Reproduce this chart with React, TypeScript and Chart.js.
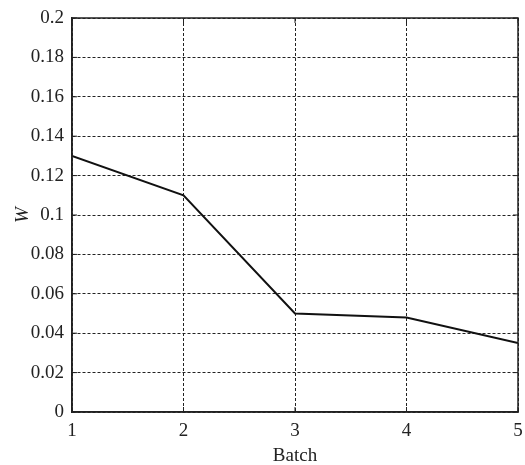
import React, { useEffect, useRef } from "react";
import { Chart, registerables } from "chart.js";

Chart.register(...registerables);

const batches = [1, 2, 3, 4, 5];
const wValues = [0.13, 0.11, 0.05, 0.048, 0.035];
const yTickValues = [0, 0.02, 0.04, 0.06, 0.08, 0.1, 0.12, 0.14, 0.16, 0.18, 0.2];
const yTickLabels = ["0", "0.02", "0.04", "0.06", "0.08", "0.1", "0.12", "0.14", "0.16", "0.18", "0.2"];
const xTickLabels = ["1", "2", "3", "4", "5"];

const FONT = "'Liberation Serif', 'DejaVu Serif', serif";
const INK = "#222";

const boxPlugin = {
  id: "boxPlugin",
  afterDraw(chart: any) {
    const { ctx, chartArea } = chart;
    const { left, right, top, bottom } = chartArea;
    ctx.save();
    ctx.strokeStyle = INK;
    ctx.lineWidth = 1.5;
    ctx.setLineDash([]);
    ctx.strokeRect(left, top, right - left, bottom - top);
    const tl = 5;
    ctx.lineWidth = 1;
    const xs = chart.scales.x;
    const ys = chart.scales.y;
    xs.ticks.forEach((t: any) => {
      const px = xs.getPixelForValue(t.value);
      ctx.beginPath();
      ctx.moveTo(px, bottom);
      ctx.lineTo(px, bottom - tl);
      ctx.moveTo(px, top);
      ctx.lineTo(px, top + tl);
      ctx.stroke();
    });
    ys.ticks.forEach((t: any) => {
      const py = ys.getPixelForValue(t.value);
      ctx.beginPath();
      ctx.moveTo(left, py);
      ctx.lineTo(left + tl, py);
      ctx.moveTo(right, py);
      ctx.lineTo(right - tl, py);
      ctx.stroke();
    });
    ctx.restore();
  },
};

export default function App() {
  const ref = useRef<HTMLCanvasElement | null>(null);

  useEffect(() => {
    if (!ref.current) return;
    const chart = new Chart(ref.current, {
      type: "line",
      data: {
        datasets: [
          {
            data: batches.map((b, i) => ({ x: b, y: wValues[i] })),
            borderColor: "#111",
            borderWidth: 2,
            pointRadius: 0,
            fill: false,
            tension: 0,
          },
        ],
      },
      plugins: [boxPlugin],
      options: {
        animation: false,
        responsive: false,
        maintainAspectRatio: false,
        layout: { padding: { left: 12, right: 7, top: 18, bottom: 0 } },
        plugins: { legend: { display: false }, tooltip: { enabled: false } },
        scales: {
          x: {
            type: "linear",
            min: 1,
            max: 5,
            afterBuildTicks: (scale: any) => {
              scale.ticks = batches.map((v) => ({ value: v }));
            },
            afterFit: (scale: any) => {
              scale.height = 53;
              scale.paddingLeft = 0;
              scale.paddingRight = 0;
            },
            ticks: {
              color: INK,
              font: { family: FONT, size: 19 },
              padding: 8,
              maxRotation: 0,
              callback: (v: any) => {
                const i = batches.indexOf(Number(v));
                return i >= 0 ? xTickLabels[i] : "";
              },
            },
            grid: { color: INK, lineWidth: 1, drawTicks: false },
            border: { display: true, color: INK, width: 1.5, dash: [3, 2] },
            title: {
              display: true,
              text: "Batch",
              color: INK,
              font: { family: FONT, size: 19 },
              padding: { top: 0, bottom: -2 },
            },
          },
          y: {
            type: "linear",
            min: 0,
            max: 0.2,
            afterBuildTicks: (scale: any) => {
              scale.ticks = yTickValues.map((v) => ({ value: v }));
            },
            afterFit: (scale: any) => {
              scale.width = 60;
              scale.paddingTop = 0;
              scale.paddingBottom = 0;
            },
            ticks: {
              color: INK,
              font: { family: FONT, size: 19 },
              padding: 8,
              callback: (v: any) => {
                const i = yTickValues.findIndex((t) => Math.abs(t - Number(v)) < 1e-9);
                return i >= 0 ? yTickLabels[i] : "";
              },
            },
            grid: { color: INK, lineWidth: 1, drawTicks: false },
            border: { display: true, color: INK, width: 1.5, dash: [3, 2] },
            title: {
              display: true,
              text: "W",
              color: INK,
              font: { family: FONT, size: 19, style: "italic" },
              padding: { top: 0, bottom: 0 },
            },
          },
        },
      },
    });
    return () => chart.destroy();
  }, []);

  return (
    <div style={{ position: "fixed", left: 0, top: 0, width: 525, height: 465, background: "#fff" }}>
      <canvas ref={ref} width={525} height={465} style={{ display: "block" }} />
    </div>
  );
}
